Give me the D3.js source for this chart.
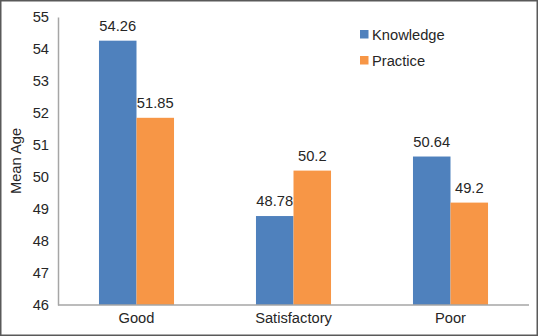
<!DOCTYPE html>
<html>
<head>
<meta charset="utf-8">
<script src="https://cdn.jsdelivr.net/npm/d3@7"></script>
<style>
  body { margin: 0; background: #fff; }
  svg text { font-family: "Liberation Sans", Arial, sans-serif; fill: #262626; }
</style>
</head>
<body>
<div class="container"></div>
<script>
const width = 538;
const height = 336;
const margin = { top: 17, bottom: 31, left: 58, right: 9 };

const categories = ["Good", "Satisfactory", "Poor"];
const seriesNames = ["Knowledge", "Practice"];
const knowledge = [54.26, 48.78, 50.64];
const practice = [51.85, 50.2, 49.2];
const yTicks = [46, 47, 48, 49, 50, 51, 52, 53, 54, 55];

const colors = ["#4F81BD", "#F79646"];
const fontSize = "14.7px";

const rows = categories.map((c, i) => ({ cat: c, vals: [knowledge[i], practice[i]] }));

const svg = d3.select(".container")
    .append("svg")
    .attr("width", width)
    .attr("height", height);

// outer frame
svg.append("rect")
    .attr("x", 0.75).attr("y", 0.75)
    .attr("width", width - 1.5).attr("height", height - 1.5)
    .attr("fill", "#fff")
    .attr("stroke", "#595959")
    .attr("stroke-width", 1.5);

const xScale = d3.scaleBand()
    .domain(categories)
    .range([margin.left, width - margin.right])
    .paddingInner(0.522)
    .paddingOuter(0.261);

const xInner = d3.scaleBand()
    .domain(seriesNames)
    .range([0, xScale.bandwidth()]);

const yScale = d3.scaleLinear()
    .domain([46, 55])
    .range([height - margin.bottom, margin.top]);

const groups = svg.append("g")
    .selectAll("g")
    .data(rows)
    .join("g")
    .attr("transform", d => `translate(${xScale(d.cat)},0)`);

groups.selectAll("rect")
    .data(d => d.vals.map((v, i) => ({ key: seriesNames[i], v: v, i: i })))
    .join("rect")
    .attr("x", d => xInner(d.key))
    .attr("y", d => yScale(d.v))
    .attr("width", xInner.bandwidth())
    .attr("height", d => yScale(46) - yScale(d.v))
    .attr("fill", d => colors[d.i]);

groups.selectAll("text")
    .data(d => d.vals.map((v, i) => ({ key: seriesNames[i], v: v })))
    .join("text")
    .attr("x", d => xInner(d.key) + xInner.bandwidth() / 2)
    .attr("y", d => yScale(d.v) - 10)
    .attr("text-anchor", "middle")
    .attr("font-size", fontSize)
    .text(d => d.v);

// axes
const xAxis = d3.axisBottom(xScale).tickSize(0).tickPadding(7.5);
const gx = svg.append("g")
    .attr("transform", `translate(0,${height - margin.bottom})`)
    .call(xAxis);
gx.select(".domain").attr("stroke", "#a6a6a6").attr("stroke-width", 1.5)
    .attr("d", `M${margin.left},0H${width - margin.right}`);
gx.selectAll("text").attr("font-size", fontSize).attr("fill", "#262626");

const yAxis = d3.axisLeft(yScale).tickValues(yTicks).tickSize(0).tickPadding(9);
const gy = svg.append("g")
    .attr("transform", `translate(${margin.left},0)`)
    .call(yAxis);
gy.select(".domain").attr("stroke", "#a6a6a6").attr("stroke-width", 1.5);
gy.selectAll("text").attr("font-size", fontSize).attr("fill", "#262626");

svg.append("text")
    .attr("transform", `translate(21,${(margin.top + height - margin.bottom) / 2}) rotate(-90)`)
    .attr("text-anchor", "middle")
    .attr("font-size", fontSize)
    .text("Mean Age");

// legend
const legend = svg.append("g")
    .selectAll("g")
    .data(seriesNames)
    .join("g")
    .attr("transform", (d, i) => `translate(360,${30 + i * 26})`);

legend.append("rect")
    .attr("width", 8.5).attr("height", 8.5)
    .attr("fill", (d, i) => colors[i]);

legend.append("text")
    .attr("x", 12).attr("y", 9.5)
    .attr("font-size", fontSize)
    .text(d => d);
</script>
</body>
</html>
